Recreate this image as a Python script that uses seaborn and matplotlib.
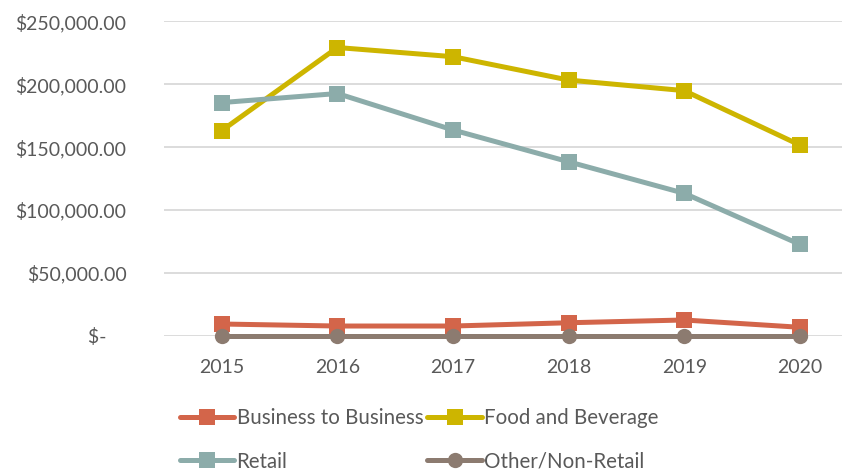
import pandas as pd
import seaborn as sns
import matplotlib.pyplot as plt

years = ["2015", "2016", "2017", "2018", "2019", "2020"]
b2b = [9300, 7700, 7700, 10300, 12500, 6700]
food = [163200, 229300, 222000, 203400, 195000, 151700]
retail = [185500, 192700, 163700, 138400, 113300, 72700]
other = [0, 0, 0, 0, 0, 0]
series_names = ["Business to Business", "Food and Beverage", "Retail", "Other/Non-Retail"]
y_ticks = [0, 50000, 100000, 150000, 200000, 250000]
y_labels = ["$-    ", "$50,000.00", "$100,000.00", "$150,000.00", "$200,000.00", "$250,000.00"]

colors = {"Business to Business": "#D3654A", "Food and Beverage": "#CDB500",
          "Retail": "#8CACAA", "Other/Non-Retail": "#8C7B70"}
markers = {"Business to Business": "s", "Food and Beverage": "s",
           "Retail": "s", "Other/Non-Retail": "o"}

rows = []
for name, vals in zip(series_names, [b2b, food, retail, other]):
    for i, v in enumerate(vals):
        rows.append({"year": i, "series": name, "value": v})
df = pd.DataFrame(rows)

sns.set_style("white")
plt.rcParams["font.family"] = ["Lato", "DejaVu Sans"]
text_color = "#595959"

fig = plt.figure(figsize=(8.42, 4.73), dpi=100)
ax = fig.add_axes([164 / 842, 1 - 335.7 / 473, 1 - 164 / 842, (335.7 - 21.5) / 473])

sns.lineplot(data=df, x="year", y="value", hue="series", style="series",
             palette=colors, markers=markers, dashes=False, linewidth=3.6,
             markersize=11, markeredgewidth=0, ax=ax)
for ln in ax.lines:
    ln.set_clip_on(False)

ax.set_xlim(-0.5, 5.365)
ax.set_ylim(0, 250000)
ax.set_xticks(range(len(years)))
ax.set_xticklabels(years)
ax.set_yticks(y_ticks)
ax.set_yticklabels(y_labels)
ax.tick_params(axis="both", length=0, labelsize=14, colors=text_color)
ax.tick_params(axis="x", pad=17)
ax.tick_params(axis="y", pad=27)
ax.grid(axis="y", color="#D9D9D9", linewidth=1.3)
ax.set_axisbelow(True)
for s in ax.spines.values():
    s.set_visible(False)
ax.set_xlabel("")
ax.set_ylabel("")

handles, labels = ax.get_legend_handles_labels()
hmap = dict(zip(labels, handles))
order = ["Business to Business", "Retail", "Food and Beverage", "Other/Non-Retail"]
ax.get_legend().remove()
leg = fig.legend([hmap[k] for k in order], order, loc="upper left",
                 bbox_to_anchor=(180 / 842, 1 - 408 / 473), ncol=2, frameon=False,
                 fontsize=14.8, handlelength=2.65, handletextpad=0.1,
                 columnspacing=0.2, labelspacing=1.15, borderpad=0, borderaxespad=0)
for t in leg.get_texts():
    t.set_color(text_color)

fig.savefig("out.png", dpi=100)
